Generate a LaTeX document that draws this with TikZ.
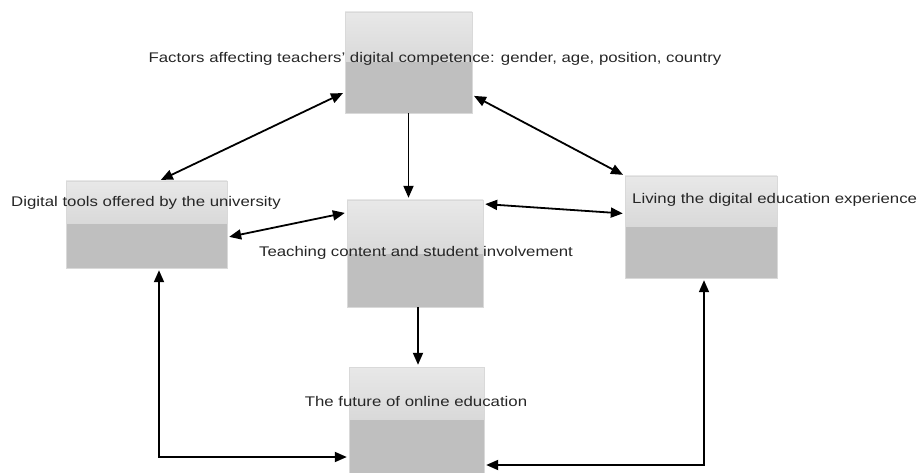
\documentclass[tikz,border=0pt]{standalone}
\usepackage{fontspec}
\setmainfont{Liberation Sans}
\usetikzlibrary{arrows.meta,positioning,calc}
\tikzstyle{box}=[draw=black!15,rectangle,inner sep=0pt,path picture={
  \fill[top color=black!9,bottom color=black!21] (path picture bounding box.north west) rectangle (path picture bounding box.east);
  \fill[black!25] (path picture bounding box.west) rectangle (path picture bounding box.south east);}]
\tikzstyle{boxtext}=[text=black!85,font=\fontsize{14}{16}\selectfont,xscale=1.2,inner sep=0pt,text height=10pt,text depth=3pt]
\tikzstyle{link}=[line width=1.8pt,{Triangle[length=12pt,width=10pt]}-{Triangle[length=12pt,width=10pt]},shorten <=2pt,shorten >=2pt]
\tikzstyle{flow}=[line width=1.8pt,-{Triangle[length=12pt,width=10pt]},shorten >=2pt]

\begin{document}
\begin{tikzpicture}[x=1pt,y=-1pt]
\useasboundingbox (0,0) rectangle (918,473);
\node [box,minimum width=127pt,minimum height=101pt] (factors) at (408.5,62.5) {};
\node [box,minimum width=161pt,minimum height=87pt] (tools) at (146.5,224.5) {};
\node [box,minimum width=136pt,minimum height=107pt] (teaching) at (415,253.5) {};
\node [box,minimum width=152pt,minimum height=102pt] (living) at (701,227) {};
\node [box,minimum width=135pt,minimum height=106pt] (future) at (416.5,420) {};

\node [boxtext] (factorsText) at (435,59) {Factors affecting teachers' digital competence: gender, age, position, country};
\node [boxtext] (toolsText) at (146,203) {Digital tools offered by the university};
\node [boxtext] (teachingText) at (416,253) {Teaching content and student involvement};
\node [boxtext,anchor=west] (livingText) at (632,200) {Living the digital education experience};
\node [boxtext] (futureText) at (416,403) {The future of online education};

\draw [link] (factors.205) -- (tools.74);
\draw [link] (factors.333) -- (living.north west);
\draw [flow] (factors.south) -- (factors.south |- teaching.north);
\draw [link] (tools.351) -- (teaching.149);
\draw [link] (teaching.36) -- (living.170);
\draw [flow] ([xshift=3pt]teaching.south) -- ([xshift=3pt]teaching.south |- future.north);
\draw [link] ([xshift=12.5pt]tools.south) |- ([yshift=-37pt]future.west);
\draw [link] ([xshift=3pt]living.south) |- ([yshift=-45pt]future.east);
\end{tikzpicture}
\end{document}
